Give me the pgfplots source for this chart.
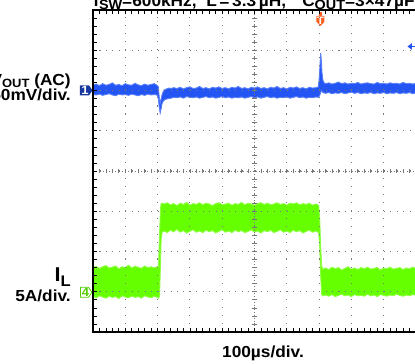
\documentclass[border=0pt]{standalone}
\usepackage{pgfplots}
\pgfplotsset{compat=1.18}
\usepackage{pgfplotstable}
\usepgfplotslibrary{fillbetween}
\usepackage{fontspec}
\setmainfont{Liberation Sans}
\newfontfamily\lab{Liberation Sans}[FakeStretch=1.08]
\definecolor{trblue}{RGB}{35,85,245}
\definecolor{trgreen}{RGB}{102,255,0}
\definecolor{trorange}{RGB}{255,95,30}
\definecolor{gridgray}{RGB}{120,120,120}

% Channel 1: V_OUT (AC), 50 mV/div, ground at +2 div ; t in microseconds, band edges in divisions
\pgfplotstableread{
t hi lo
-500 2.14 1.90
-490 2.16 1.89
-480 2.12 1.91
-470 2.17 1.88
-460 2.13 1.90
-450 2.15 1.92
-440 2.19 1.89
-430 2.13 1.87
-420 2.15 1.91
-410 2.12 1.89
-400 2.17 1.90
-390 2.14 1.88
-380 2.13 1.91
-370 2.18 1.89
-360 2.14 1.87
-350 2.12 1.90
-340 2.16 1.88
-330 2.13 1.91
-320 2.15 1.89
-310 2.17 1.90
-302 2.13 1.89
-298 2.10 1.82
-295 1.85 1.60
-292 1.68 1.44
-289 1.78 1.55
-286 1.90 1.68
-282 1.98 1.74
-278 2.02 1.77
-272 2.04 1.79
-265 2.06 1.80
-258 2.05 1.81
-250 2.07 1.83
-240 2.05 1.82
-230 2.08 1.84
-220 2.04 1.81
-210 2.07 1.85
-200 2.09 1.83
-190 2.05 1.82
-180 2.06 1.84
-170 2.10 1.81
-160 2.05 1.83
-150 2.07 1.85
-140 2.04 1.82
-130 2.08 1.84
-120 2.06 1.81
-110 2.09 1.83
-100 2.05 1.85
-90 2.07 1.82
-80 2.04 1.84
-70 2.08 1.81
-60 2.06 1.83
-50 2.10 1.82
-40 2.05 1.84
-30 2.07 1.81
-20 2.04 1.83
-10 2.08 1.85
0 2.06 1.82
10 2.09 1.84
20 2.05 1.81
30 2.07 1.83
40 2.04 1.85
50 2.08 1.82
60 2.06 1.84
70 2.10 1.81
80 2.05 1.83
90 2.07 1.82
100 2.04 1.84
110 2.08 1.81
120 2.06 1.83
130 2.09 1.85
140 2.05 1.82
150 2.07 1.84
160 2.04 1.81
170 2.08 1.83
180 2.06 1.82
190 2.07 1.84
197 2.08 1.83
200 2.25 1.85
203 2.65 1.90
205 2.93 1.95
207 2.75 2.00
209 2.45 1.98
212 2.25 1.95
216 2.19 1.94
220 2.17 1.93
230 2.19 1.95
240 2.16 1.92
250 2.18 1.94
260 2.21 1.93
270 2.17 1.95
280 2.19 1.92
290 2.16 1.94
300 2.18 1.96
310 2.17 1.93
320 2.20 1.95
330 2.16 1.92
340 2.18 1.94
350 2.19 1.93
360 2.17 1.95
370 2.16 1.92
380 2.20 1.94
390 2.17 1.93
400 2.18 1.95
410 2.16 1.92
420 2.19 1.94
430 2.17 1.93
440 2.18 1.95
450 2.16 1.92
460 2.20 1.94
470 2.17 1.93
480 2.18 1.95
490 2.16 1.92
500 2.18 1.94
}\chone

% Channel 4: I_L, 5 A/div, ground at -3 div
\pgfplotstableread{
t hi lo
-500 -2.40 -3.12
-490 -2.37 -3.15
-480 -2.42 -3.10
-470 -2.38 -3.13
-460 -2.35 -3.16
-450 -2.41 -3.11
-440 -2.39 -3.14
-430 -2.36 -3.12
-420 -2.43 -3.17
-410 -2.38 -3.10
-400 -2.40 -3.13
-390 -2.34 -3.15
-380 -2.41 -3.11
-370 -2.37 -3.14
-360 -2.39 -3.12
-350 -2.42 -3.16
-340 -2.36 -3.10
-330 -2.40 -3.13
-320 -2.38 -3.15
-310 -2.41 -3.11
-300 -2.37 -3.14
-297 -2.39 -3.16
-294 -1.60 -3.10
-291 -0.95 -2.30
-289 -0.81 -1.70
-286 -0.80 -1.52
-280 -0.82 -1.49
-270 -0.79 -1.53
-260 -0.84 -1.47
-250 -0.81 -1.51
-240 -0.86 -1.45
-230 -0.80 -1.52
-220 -0.83 -1.48
-210 -0.78 -1.54
-200 -0.85 -1.50
-190 -0.81 -1.46
-180 -0.83 -1.52
-170 -0.79 -1.49
-160 -0.84 -1.53
-150 -0.80 -1.47
-140 -0.82 -1.51
-130 -0.86 -1.48
-120 -0.81 -1.54
-110 -0.79 -1.50
-100 -0.84 -1.46
-90 -0.82 -1.52
-80 -0.80 -1.49
-70 -0.85 -1.53
-60 -0.81 -1.47
-50 -0.83 -1.51
-40 -0.78 -1.48
-30 -0.84 -1.53
-20 -0.80 -1.50
-10 -0.82 -1.46
0 -0.85 -1.52
10 -0.81 -1.49
20 -0.79 -1.54
30 -0.83 -1.48
40 -0.80 -1.51
50 -0.84 -1.47
60 -0.82 -1.53
70 -0.79 -1.50
80 -0.83 -1.46
90 -0.81 -1.52
100 -0.85 -1.49
110 -0.80 -1.53
120 -0.82 -1.47
130 -0.79 -1.51
140 -0.84 -1.48
150 -0.81 -1.54
160 -0.83 -1.50
170 -0.80 -1.47
180 -0.85 -1.52
190 -0.82 -1.49
196 -0.84 -1.51
199 -0.86 -1.55
202 -1.20 -1.90
205 -1.90 -2.60
208 -2.35 -3.05
211 -2.44 -3.10
220 -2.41 -3.08
230 -2.45 -3.11
240 -2.39 -3.07
250 -2.43 -3.12
260 -2.40 -3.09
270 -2.46 -3.06
280 -2.42 -3.10
290 -2.38 -3.08
300 -2.44 -3.12
310 -2.41 -3.07
320 -2.45 -3.10
330 -2.40 -3.09
340 -2.43 -3.11
350 -2.39 -3.06
360 -2.44 -3.10
370 -2.42 -3.08
380 -2.40 -3.12
390 -2.46 -3.07
400 -2.41 -3.09
410 -2.43 -3.11
420 -2.39 -3.08
430 -2.44 -3.10
440 -2.42 -3.06
450 -2.40 -3.09
460 -2.45 -3.11
470 -2.41 -3.08
480 -2.43 -3.10
490 -2.39 -3.07
500 -2.42 -3.09
}\chfour

\begin{document}
\begin{tikzpicture}[
  lbl/.style={inner sep=0pt, font=\lab\bfseries\fontsize{12}{14}\selectfont}]
\begin{axis}[
  scale only axis,
  width=244.65pt, height=241.5pt,
  xmin=-500, xmax=510, ymin=-4, ymax=4,
  xtick={-500,-400,...,500}, ytick={-4,-3,...,4},
  minor x tick num=4, minor y tick num=4,
  xticklabels={}, yticklabels={},
  tick align=inside, major tick length=3.2pt, minor tick length=3.2pt,
  tick style={black, line width=0.5pt},
  grid=major,
  major x grid style={gridgray, line width=0.8pt, dash pattern=on 0.8pt off 5.24pt},
  major y grid style={gridgray, line width=0.8pt, dash pattern=on 0.8pt off 4.045pt},
  axis line style={black, line width=2pt},
  axis on top,
]
\addplot[name path=c4hi, draw=trgreen!75!white, line width=0.7pt] table[x=t,y=hi]{\chfour};
\addplot[name path=c4lo, draw=trgreen!75!white, line width=0.7pt] table[x=t,y=lo]{\chfour};
\addplot[trgreen] fill between[of=c4hi and c4lo];
\addplot[name path=c1hi, draw=trblue!75!white, line width=0.7pt] table[x=t,y=hi]{\chone};
\addplot[name path=c1lo, draw=trblue!75!white, line width=0.7pt] table[x=t,y=lo]{\chone};
\addplot[trblue] fill between[of=c1hi and c1lo];
\coordinate (O) at (axis cs:-787.9,-4.795);
\end{axis}
\begin{axis}[
  scale only axis,
  width=244.65pt, height=241.5pt,
  xmin=-500, xmax=510, ymin=-4, ymax=4,
  axis lines=middle,
  axis line style={-, gridgray, line width=0.7pt, dash pattern=on 0.8pt off 1.6pt},
  xtick={-500,-480,...,500}, ytick={-4,-3.8,...,4},
  xticklabels={}, yticklabels={},
  tick align=center, major tick length=3.5pt,
  tick style={gridgray, line width=0.5pt},
]
\end{axis}
\begin{scope}[shift={(O)}, x=0.75pt, y=0.75pt]
% channel markers
\fill[trblue!65!black] (80,268.6) -- (89,268.6) -- (92.5,273.6) -- (89,278.6) -- (80,278.6) -- cycle;
\node[white, inner sep=0pt, font=\lab\bfseries\fontsize{9}{9}\selectfont] at (85,273.6) {1};
\draw[trgreen!80!black, fill=white, line width=0.6pt] (80.5,66.7) -- (88.5,66.7) -- (92,71.7) -- (88.5,76.7) -- (80.5,76.7) -- cycle;
\node[trgreen!80!black, inner sep=0pt, font=\lab\bfseries\fontsize{9}{9}\selectfont] at (85.5,71.7) {4};
% trigger marker
\fill[trorange] (318.8,347.5) rectangle (322.2,351.5);
\fill[trorange] (316.5,348) -- (324.5,348) -- (324.5,342) -- (320.5,338) -- (316.5,342) -- cycle;
\node[white, inner sep=0pt, font=\lab\bfseries\fontsize{8}{8}\selectfont] at (320.5,343.5) {T};
\fill[trblue] (407.5,317.5) -- (412,320.8) -- (412,314.2) -- cycle;
\draw[trblue, line width=1.4pt] (411,317.5) -- (416,317.5);
% labels
\node[lbl, anchor=base] at (263,6.5) {100µs/div.};
\node[lbl, anchor=base east] at (71,278) {V\raisebox{-1.5pt}{\fontsize{9}{10}\selectfont OUT} (AC)};
\node[lbl, anchor=base east] at (71,263) {50mV/div.};
\node[lbl, anchor=base east] at (71,82) {{\fontsize{15}{16}\selectfont I}\raisebox{-3.75pt}{\fontsize{11.5}{12}\selectfont L}};
\node[lbl, anchor=base east] at (71,62) {5A/div.};
\node[lbl, anchor=base west] at (93,357.5) {f\raisebox{-2pt}{\fontsize{10}{11}\selectfont SW}=600kHz,};
\node[lbl, anchor=base west] at (206,357.5) {L\,=\,3.3\,µH,};
\node[lbl, anchor=base west] at (302,357.5) {C\raisebox{-2pt}{\fontsize{10}{11}\selectfont OUT}=3×47µF};
\end{scope}
\pgfresetboundingbox
\useasboundingbox[x=0.75pt, y=0.75pt] (O) rectangle ++(415,364);
\end{tikzpicture}
\end{document}
